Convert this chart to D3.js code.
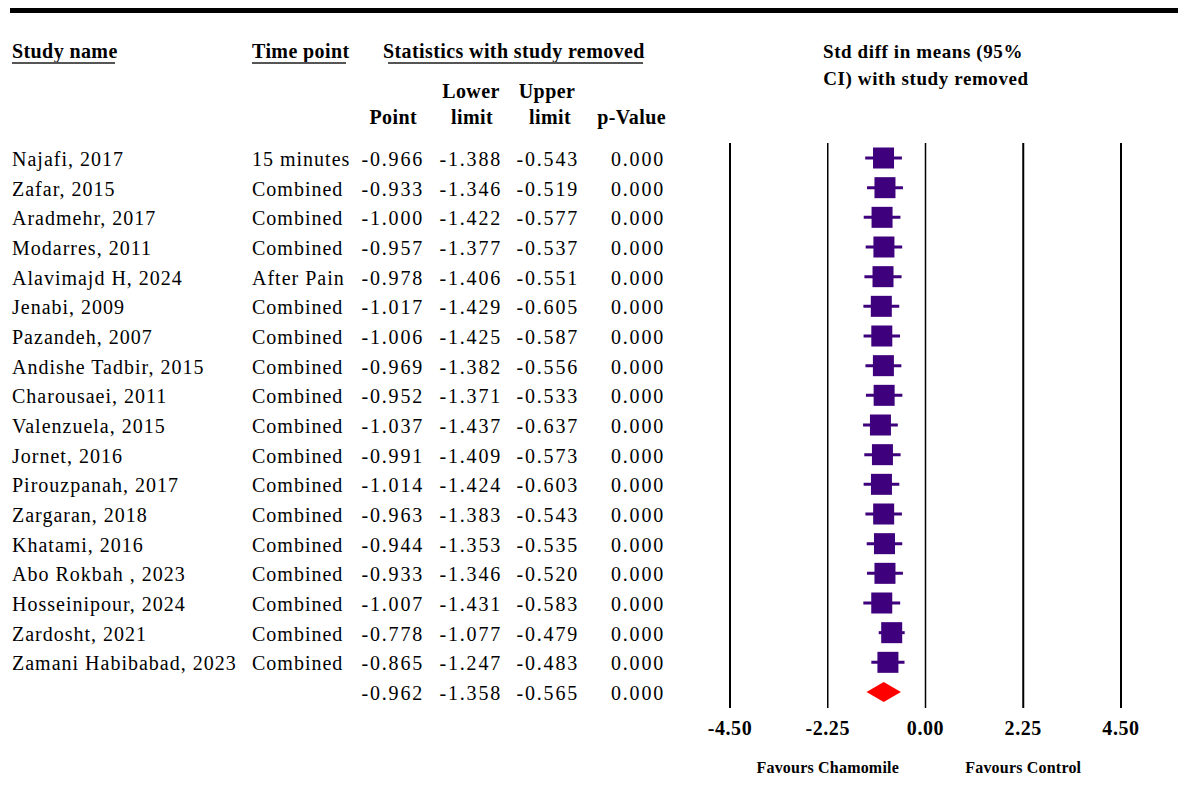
<!DOCTYPE html>
<html>
<head>
<meta charset="utf-8">
<script src="https://cdn.jsdelivr.net/npm/d3@7"></script>
<style>
  body { margin: 0; background: #fff; }
  svg text { font-family: "Liberation Serif", "Times New Roman", serif; fill: #000; }
  .row { font-size: 20px; letter-spacing: 1.0px; }
  .num { letter-spacing: 1.8px; }
  .head { font-size: 20px; font-weight: bold; letter-spacing: 0.4px; }
  .title { font-size: 19px; font-weight: bold; letter-spacing: 0.6px; }
  .tick { font-size: 20px; font-weight: bold; letter-spacing: 0.6px; }
  .fav { font-size: 16px; font-weight: bold; letter-spacing: 0.2px; }
</style>
</head>
<body>
<script>
'use strict';

const studies = ["Najafi, 2017", "Zafar, 2015", "Aradmehr, 2017", "Modarres, 2011",
  "Alavimajd H, 2024", "Jenabi, 2009", "Pazandeh, 2007", "Andishe Tadbir, 2015",
  "Charousaei, 2011", "Valenzuela, 2015", "Jornet, 2016", "Pirouzpanah, 2017",
  "Zargaran, 2018", "Khatami, 2016", "Abo Rokbah , 2023", "Hosseinipour, 2024",
  "Zardosht, 2021", "Zamani Habibabad, 2023"];
const timePoints = ["15 minutes", "Combined", "Combined", "Combined", "After Pain",
  "Combined", "Combined", "Combined", "Combined", "Combined", "Combined", "Combined",
  "Combined", "Combined", "Combined", "Combined", "Combined", "Combined"];
const points = [-0.966, -0.933, -1.000, -0.957, -0.978, -1.017, -1.006, -0.969, -0.952,
  -1.037, -0.991, -1.014, -0.963, -0.944, -0.933, -1.007, -0.778, -0.865];
const lowers = [-1.388, -1.346, -1.422, -1.377, -1.406, -1.429, -1.425, -1.382, -1.371,
  -1.437, -1.409, -1.424, -1.383, -1.353, -1.346, -1.431, -1.077, -1.247];
const uppers = [-0.543, -0.519, -0.577, -0.537, -0.551, -0.605, -0.587, -0.556, -0.533,
  -0.637, -0.573, -0.603, -0.543, -0.535, -0.520, -0.583, -0.479, -0.483];
const pValues = [0, 0, 0, 0, 0, 0, 0, 0, 0, 0, 0, 0, 0, 0, 0, 0, 0, 0];
const overall = { point: -0.962, lower: -1.358, upper: -0.565, p: 0 };
const ticks = [-4.50, -2.25, 0.00, 2.25, 4.50];

const svg = d3.select("body").append("svg")
  .attr("width", 1178)
  .attr("height", 810);

const x = d3.scaleLinear().domain([-4.5, 4.5]).range([730, 1121]);
const y = d3.scalePoint().domain(d3.range(studies.length + 1)).range([158, 692]);
// plain hyphen instead of unicode minus
const fmt = v => d3.format(".3f")(v).replace("\u2212", "-");
const fmt2 = v => d3.format(".2f")(v).replace("\u2212", "-");

// top rule
svg.append("rect").attr("x", 10).attr("y", 8).attr("width", 1168).attr("height", 5).attr("fill", "#000");

// headers
function header(txt, xx, yy, anchor) {
  return svg.append("text").attr("class", "head")
    .attr("x", xx).attr("y", yy)
    .attr("text-anchor", anchor || "start")
    .text(txt);
}
function underline(x1, x2) {
  svg.append("line").attr("x1", x1).attr("x2", x2).attr("y1", 63).attr("y2", 63)
    .attr("stroke", "#555").attr("stroke-width", 2);
}
header("Study name", 12, 58); underline(12, 115);
header("Time point", 252, 58); underline(252, 346);
header("Statistics with study removed", 383, 58); underline(388, 643);
header("Point", 417, 124, "end");
header("Lower", 471, 98, "middle");
header("limit", 472, 124, "middle");
header("Upper", 547, 98, "middle");
header("limit", 550, 124, "middle");
header("p-Value", 666, 124, "end");
svg.append("text").attr("class", "title")
  .attr("x", 923).attr("y", 58).attr("text-anchor", "middle").text("Std diff in means (95%");
svg.append("text").attr("class", "title")
  .attr("x", 926).attr("y", 85).attr("text-anchor", "middle").text("CI) with study removed");

// table rows
const rows = studies.map((s, i) => ({
  name: s, time: timePoints[i], point: points[i], lower: lowers[i], upper: uppers[i], p: pValues[i], i: i
}));

const cols = [
  { key: "name", x: 12, anchor: "start", f: d => d, num: false },
  { key: "time", x: 252, anchor: "start", f: d => d, num: false },
  { key: "point", x: 424, anchor: "end", f: fmt, num: true },
  { key: "lower", x: 502, anchor: "end", f: fmt, num: true },
  { key: "upper", x: 579, anchor: "end", f: fmt, num: true },
  { key: "p", x: 665, anchor: "end", f: fmt, num: true }
];

cols.forEach(c => {
  svg.selectAll(".c-" + c.key)
    .data(rows)
    .enter()
    .append("text")
    .attr("class", "row c-" + c.key + (c.num ? " num" : ""))
    .attr("x", c.x)
    .attr("y", d => y(d.i) + 8)
    .attr("text-anchor", c.anchor)
    .text(d => c.f(d[c.key]));
});

// summary row
const sumY = y(studies.length);
[["point", 424], ["lower", 502], ["upper", 579], ["p", 665]].forEach(([k, xx]) => {
  svg.append("text").attr("class", "row num").attr("x", xx).attr("y", sumY + 8)
    .attr("text-anchor", "end").text(fmt(overall[k]));
});

// vertical reference lines
svg.selectAll(".vline")
  .data(ticks)
  .enter()
  .append("line")
  .attr("class", "vline")
  .attr("x1", d => x(d)).attr("x2", d => x(d))
  .attr("y1", 143).attr("y2", 708)
  .attr("stroke", "#000")
  .attr("stroke-width", (d, i) => (i === 1 || i === 2) ? 1.5 : 2);

// tick labels
svg.selectAll(".tick")
  .data(ticks)
  .enter()
  .append("text")
  .attr("class", "tick")
  .attr("x", d => x(d))
  .attr("y", 735)
  .attr("text-anchor", "middle")
  .text(d => fmt2(d));

svg.append("text").attr("class", "fav").attr("x", x(-2.25)).attr("y", 773)
  .attr("text-anchor", "middle").text("Favours Chamomile");
svg.append("text").attr("class", "fav").attr("x", x(2.25)).attr("y", 773)
  .attr("text-anchor", "middle").text("Favours Control");

// CI whiskers
const purple = "#3f007d";
svg.selectAll(".ci")
  .data(rows)
  .enter()
  .append("line")
  .attr("class", "ci")
  .attr("x1", d => x(d.lower)).attr("x2", d => x(d.upper))
  .attr("y1", d => y(d.i)).attr("y2", d => y(d.i))
  .attr("stroke", purple)
  .attr("stroke-width", 3);

// point estimates
const sq = 21;
svg.selectAll(".sq")
  .data(rows)
  .enter()
  .append("rect")
  .attr("class", "sq")
  .attr("x", d => x(d.point) - sq / 2)
  .attr("y", d => y(d.i) - sq / 2)
  .attr("width", sq)
  .attr("height", sq)
  .attr("fill", purple);

// overall diamond
const dh = 10;
svg.append("path")
  .attr("d", "M" + x(overall.lower) + "," + sumY +
    "L" + x(overall.point) + "," + (sumY - dh) +
    "L" + x(overall.upper) + "," + sumY +
    "L" + x(overall.point) + "," + (sumY + dh) + "Z")
  .attr("fill", "#ff0000");
</script>
</body>
</html>
